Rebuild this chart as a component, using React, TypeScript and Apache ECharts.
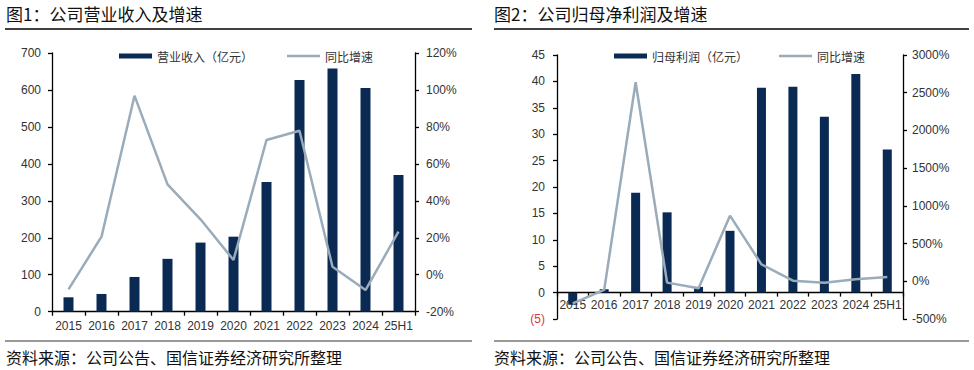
import React, { useEffect, useRef } from "react";
import * as echarts from "echarts";

const categories = ["2015", "2016", "2017", "2018", "2019", "2020", "2021", "2022", "2023", "2024", "25H1"];
const revenue = [39, 48, 94, 143, 187, 203, 351, 627, 658, 605, 370];
const revenueGrowth = [-7.9, 20.6, 96.9, 48.9, 30, 8, 72.9, 77.9, 4.3, -8.3, 23.3];
const profit = [-2.3, 0.64, 18.9, 15.2, 1.08, 11.7, 38.8, 39.0, 33.3, 41.4, 27.1];
const profitGrowth = [-292, -115, 2638, -18, -93, 870, 225, 8, -18, 26, 57];

const title1 = "图1：公司营业收入及增速";
const title2 = "图2：公司归母净利润及增速";
const source = "资料来源：公司公告、国信证券经济研究所整理";
const barName1 = "营业收入（亿元）";
const barName2 = "归母利润（亿元）";
const lineName = "同比增速";

const FONT = "'Liberation Sans', Arial, 'Noto Sans CJK SC', sans-serif";
const CJK = "'Noto Sans CJK SC', 'Liberation Sans', sans-serif";
const NAVY = "#0a2a54";
const GREY_LINE = "#9aabb9";
const TXT = "#333333";
const LINE_ICON = "path://M0,0 L33,0 L33,2.6 L0,2.6 Z";

const P_MIN = -5;
const P_MAX = 45;
const GRID2_H = 264;

export default function App() {
  const ref = useRef<HTMLDivElement>(null);
  useEffect(() => {
    if (!ref.current) return;
    const chart = echarts.init(ref.current, undefined, { renderer: "svg" });
    const axisLine = { show: true, lineStyle: { color: "#000", width: 1.3 } };
    const axisTick = { show: true, length: 4, lineStyle: { color: "#000", width: 1.3 } };
    const lbl = (extra: any = {}) => ({ color: TXT, fontSize: 12, fontFamily: FONT, ...extra });
    const zeroOffset = -((0 - P_MIN) / (P_MAX - P_MIN)) * GRID2_H;
    chart.setOption({
      animation: false,
      backgroundColor: "#ffffff",
      textStyle: { fontFamily: FONT },
      grid: [
        { left: 52, top: 53, width: 363, height: 258.7, containLabel: false },
        { left: 557, top: 55, width: 346, height: GRID2_H, containLabel: false },
      ],
      legend: [
        {
          left: 119,
          top: 50,
          padding: 0,
          itemWidth: 33,
          itemHeight: 5,
          itemGap: 34,
          itemTextGap: 4,
          textStyle: { fontSize: 12, fontFamily: CJK, color: TXT },
          data: [{ name: barName1, icon: "rect" }, { name: lineName, icon: LINE_ICON }],
        },
        {
          left: 614,
          top: 50,
          padding: 0,
          itemWidth: 33,
          itemHeight: 5,
          itemGap: 31,
          itemTextGap: 4,
          textStyle: { fontSize: 12, fontFamily: CJK, color: TXT },
          data: [{ name: barName2, icon: "rect" }, { name: lineName, icon: LINE_ICON }],
        },
      ],
      xAxis: [
        {
          type: "category",
          gridIndex: 0,
          data: categories,
          boundaryGap: true,
          axisLine: { ...axisLine, onZero: false },
          axisTick: { ...axisTick },
          axisLabel: lbl({ margin: 8, interval: 0 }),
          splitLine: { show: false },
        },
        {
          type: "category",
          gridIndex: 1,
          data: categories,
          boundaryGap: true,
          offset: zeroOffset,
          axisLine: { ...axisLine, onZero: false },
          axisTick: { ...axisTick },
          axisLabel: lbl({ margin: 6, interval: 0 }),
          splitLine: { show: false },
        },
      ],
      yAxis: [
        {
          type: "value",
          gridIndex: 0,
          min: 0,
          max: 700,
          interval: 100,
          axisLine,
          axisTick,
          axisLabel: lbl({ margin: 11 }),
          splitLine: { show: false },
        },
        {
          type: "value",
          gridIndex: 0,
          position: "right",
          min: -20,
          max: 120,
          interval: 20,
          axisLine,
          axisTick,
          axisLabel: lbl({ margin: 11, formatter: (v: number) => v + "%" }),
          splitLine: { show: false },
        },
        {
          type: "value",
          gridIndex: 1,
          min: P_MIN,
          max: P_MAX,
          interval: 5,
          axisLine,
          axisTick,
          axisLabel: lbl({
            margin: 12,
            formatter: (v: number) => (v < 0 ? "{r|(" + Math.abs(v) + ")}" : String(v)),
            rich: { r: { color: "#d9363e", fontSize: 12, fontFamily: FONT } },
          }),
          splitLine: { show: false },
        },
        {
          type: "value",
          gridIndex: 1,
          position: "right",
          min: -500,
          max: 3000,
          interval: 500,
          axisLine,
          axisTick,
          axisLabel: lbl({ margin: 9, formatter: (v: number) => v + "%" }),
          splitLine: { show: false },
        },
      ],
      series: [
        {
          name: barName1,
          type: "bar",
          xAxisIndex: 0,
          yAxisIndex: 0,
          data: revenue,
          barWidth: 10,
          itemStyle: { color: NAVY },
        },
        {
          name: lineName,
          type: "line",
          xAxisIndex: 0,
          yAxisIndex: 1,
          data: revenueGrowth,
          symbol: "none",
          lineStyle: { color: GREY_LINE, width: 2.5 },
          itemStyle: { color: GREY_LINE },
          z: 3,
        },
        {
          name: barName2,
          type: "bar",
          xAxisIndex: 1,
          yAxisIndex: 2,
          data: profit,
          barWidth: 9,
          itemStyle: { color: NAVY },
        },
        {
          name: lineName,
          type: "line",
          xAxisIndex: 1,
          yAxisIndex: 3,
          data: profitGrowth,
          symbol: "none",
          lineStyle: { color: GREY_LINE, width: 2.5 },
          itemStyle: { color: GREY_LINE },
          z: 3,
        },
      ],
      graphic: [
        { type: "text", left: 6, top: 5, style: { text: title1, fontSize: 17, fontFamily: CJK, fill: "#111" } },
        { type: "text", left: 494, top: 5, style: { text: title2, fontSize: 17, fontFamily: CJK, fill: "#111" } },
        { type: "line", shape: { x1: 5, y1: 29, x2: 472, y2: 29 }, style: { stroke: "#000", lineWidth: 1.3 } },
        { type: "line", shape: { x1: 494, y1: 29, x2: 969, y2: 29 }, style: { stroke: "#000", lineWidth: 1.3 } },
        { type: "line", shape: { x1: 5, y1: 341, x2: 472, y2: 341 }, style: { stroke: "#999", lineWidth: 2 } },
        { type: "line", shape: { x1: 494, y1: 341, x2: 969, y2: 341 }, style: { stroke: "#999", lineWidth: 2 } },
        { type: "text", left: 6, top: 349, style: { text: source, fontSize: 16, fontFamily: CJK, fill: "#111" } },
        { type: "text", left: 494, top: 349, style: { text: source, fontSize: 16, fontFamily: CJK, fill: "#111" } },
      ],
    });
    return () => chart.dispose();
  }, []);
  return (
    <div
      ref={ref}
      style={{ position: "fixed", left: 0, top: 0, width: 974, height: 370, background: "#fff" }}
    />
  );
}
